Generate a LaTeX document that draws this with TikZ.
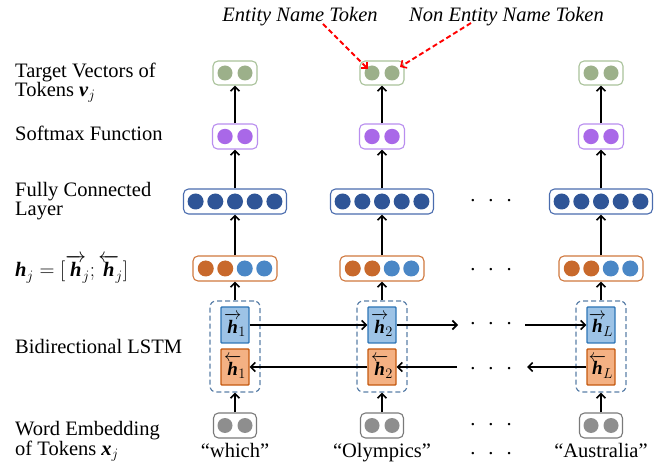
\documentclass[tikz,border=0pt]{standalone}
\usepackage{fontspec}
\setmainfont{Liberation Serif}
\usepackage{amsmath}
\usetikzlibrary{arrows.meta,calc}
\definecolor{tgtC}{HTML}{9CB08A}
\definecolor{tgtD}{HTML}{A9C29A}
\definecolor{smC}{HTML}{A968E8}
\definecolor{smD}{HTML}{B98EEF}
\definecolor{fcC}{HTML}{2F5597}
\definecolor{fcD}{HTML}{4A6CAE}
\definecolor{hOr}{HTML}{C8692C}
\definecolor{hBl}{HTML}{4A87C6}
\definecolor{hD}{HTML}{D0783E}
\definecolor{dashC}{HTML}{5A7FA8}
\definecolor{fwF}{HTML}{9DC3E6}
\definecolor{fwD}{HTML}{2E75B6}
\definecolor{bwF}{HTML}{F4B183}
\definecolor{bwD}{HTML}{C55A11}
\definecolor{emC}{HTML}{8E8E8E}
\definecolor{emD}{HTML}{7A7A7A}
\newcommand{\bfh}{\mbox{\bfseries\itshape h}}
\newcommand{\bfv}{\mbox{\bfseries\itshape v}}
\newcommand{\bfx}{\mbox{\bfseries\itshape x}}
\begin{document}
\begin{tikzpicture}[x=1pt,y=-1pt,
  font=\fontsize{20.5}{18.3}\selectfont,
  vecbox/.style={rounded corners=5pt, line width=1.1pt, inner sep=0pt, minimum height=25pt, fill=white},
  tgtbox/.style={vecbox, draw=tgtD, minimum width=44pt, minimum height=24pt},
  smbox/.style={vecbox, draw=smD, minimum width=45pt},
  fcbox/.style={vecbox, draw=fcD, minimum width=103pt},
  hbox/.style={vecbox, draw=hD, minimum width=84pt},
  embox/.style={vecbox, draw=emD, minimum width=43pt},
  lstmbox/.style={draw=dashC, dash pattern=on 5pt off 3pt, line width=1.2pt, rounded corners=6pt, minimum width=50pt, minimum height=91pt, inner sep=0pt},
  cellbox/.style={line width=1.4pt, minimum width=28pt, minimum height=36pt, inner sep=0pt, rounded corners=0.8pt, font=\fontsize{19}{20}\selectfont},
  fwbox/.style={cellbox, draw=fwD, fill=fwF},
  bwbox/.style={cellbox, draw=bwD, fill=bwF},
  arr/.style={line width=1.9pt, -{Straight Barb[length=4.5pt,width=9pt,line width=1.6pt]}},
  redarr/.style={red, line width=1.9pt, dash pattern=on 5pt off 3pt, -{Straight Barb[length=4.5pt,width=9pt,line width=1.6pt]}},
  lbl/.style={anchor=base west, inner sep=0pt},
  lbl2/.style={anchor=north west, inner sep=0pt, align=left},
  word/.style={anchor=base, inner sep=0pt},
  dots/.style={anchor=base, inner sep=0pt}
]
\useasboundingbox (0,0) rectangle (670,465);

% left labels
\node[lbl2] (l1) at (15,62.5) {Target Vectors of\\Tokens $\bfv_{j}$};
\node[lbl] (l2) at (15,141) {Softmax Function};
\node[lbl2, font=\fontsize{20.5}{19.2}\selectfont] (l3) at (15,182) {Fully Connected\\Layer};
\node[lbl] (l4) at (15,277) {$\bfh_{j}=[\overrightarrow{\bfh}\mkern-3mu_{j};\overleftarrow{\bfh}\mkern-3mu_{j}]$};
\node[lbl] (l5) at (15,353) {Bidirectional LSTM};
\node[lbl2] (l6) at (15,421) {Word Embedding\\of Tokens $\bfx_{j}$};

% top labels
\node[word, font=\fontsize{20.5}{18.3}\selectfont\itshape] (ent) at (300,21.5) {Entity Name Token};
\node[word, font=\fontsize{20.5}{18.3}\selectfont\itshape] (nent) at (506.5,21.5) {Non Entity Name Token};

% columns
\foreach \col/\x/\sub/\wtxt in {a/235/1/which, b/382/2/Olympics, c/601/L/Australia}{
  \node[tgtbox] (t\col) at (\x,73) {};
  \foreach \k in {-1,1} \fill[tgtC] ($(t\col)+(\k*10,0)$) circle (7.5pt);
  \node[smbox] (s\col) at (\x,136.5) {};
  \foreach \k in {-1,1} \fill[smC] ($(s\col)+(\k*10,0)$) circle (7.7pt);
  \node[fcbox] (f\col) at (\x,201.5) {};
  \foreach \k in {-2,-1,0,1,2} \fill[fcC] ($(f\col)+(\k*19.7,0)$) circle (8pt);
  \node[hbox] (h\col) at (\x,268.5) {};
  \foreach \k in {-1.5,-0.5} \fill[hOr] ($(h\col)+(\k*19.5,0)$) circle (8pt);
  \foreach \k in {0.5,1.5} \fill[hBl] ($(h\col)+(\k*19.5,0)$) circle (8pt);
  \node[lstmbox] (d\col) at (\x,346.5) {};
  \node[fwbox] (fw\col) at (\x,325) {$\overrightarrow{\bfh}\mkern-3mu_{\sub}$};
  \node[bwbox] (bw\col) at (\x,367) {$\overleftarrow{\bfh}\mkern-3mu_{\sub}$};
  \node[embox] (e\col) at (\x,425.5) {};
  \foreach \k in {-1,1} \fill[emC] ($(e\col)+(\k*10,0)$) circle (7.5pt);
  \node[word] (w\col) at (\x,457) {“\wtxt”};
  \draw[arr] (e\col) -- (d\col);
  \draw[arr] (d\col) -- (h\col);
  \draw[arr] (h\col) -- (f\col);
  \draw[arr] (f\col) -- (s\col);
  \draw[arr] (s\col) -- (t\col);
}

% dots
\foreach \n/\y in {1/200,2/269,3/323,4/368,5/424,6/453}
  \node[dots] (dots\n) at (491,\y+1.6) {.\hspace{13pt}.\hspace{13pt}.};

% horizontal LSTM connections
\coordinate (fr1) at (458,325);
\coordinate (fr2) at (525,325);
\coordinate (bl1) at (527,367);
\coordinate (bl2) at (457,367);
\draw[arr] (fwa) -- (fwb);
\draw[arr] (fwb) -- (fr1);
\draw[arr] (fr2) -- (fwc);
\draw[arr] (bwc) -- (bl1);
\draw[arr] (bl2) -- (bwb);
\draw[arr] (bwb) -- (bwa);

% red arrows
\coordinate (p1) at (323,24);
\coordinate (q1) at (368,69);
\coordinate (p2) at (471,23);
\coordinate (q2) at (400,67);
\draw[redarr] (p1) -- (q1);
\draw[redarr] (p2) -- (q2);
\end{tikzpicture}
\end{document}
